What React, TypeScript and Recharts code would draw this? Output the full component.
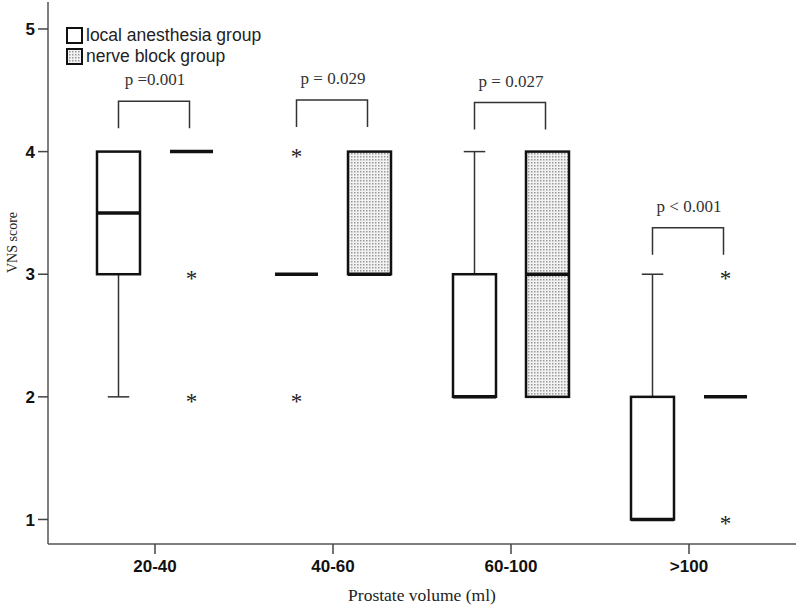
import { Bar, ComposedChart, Legend, XAxis, YAxis } from "recharts";

const categories = ["20-40", "40-60", "60-100", ">100"];

// local anesthesia group
const localMin = [2, 3, 2, 1];
const localQ1 = [3, 3, 2, 1];
const localMedian = [3.5, 3, 2, 1];
const localQ3 = [4, 3, 3, 2];
const localMax = [4, 3, 4, 3];
const localOutliers = [[], [4, 2], [], []];

// nerve block group
const nerveMin = [4, 3, 2, 2];
const nerveQ1 = [4, 3, 2, 2];
const nerveMedian = [4, 3, 3, 2];
const nerveQ3 = [4, 4, 4, 2];
const nerveMax = [4, 4, 4, 2];
const nerveOutliers = [[3, 2], [], [], [3, 1]];

const pLabels = ["p =0.001", "p = 0.029", "p = 0.027", "p < 0.001"];
const bracketLevel = [4.41, 4.42, 4.4, 3.38];

const yTicks = [1, 2, 3, 4, 5];
const Y_MIN = 0.8;
const Y_MAX = 5.22;
const BAR_GAP = 30;

const data = categories.map((cat, i) => ({
  cat,
  local: { min: localMin[i], q1: localQ1[i], med: localMedian[i], q3: localQ3[i], max: localMax[i], out: localOutliers[i] },
  nerve: { min: nerveMin[i], q1: nerveQ1[i], med: nerveMedian[i], q3: nerveQ3[i], max: nerveMax[i], out: nerveOutliers[i] },
  p: pLabels[i],
  bracket: bracketLevel[i],
}));

function BoxShape(props: any) {
  const { x, width, background, payload, group, fill } = props;
  if (!background) return null;
  const py = (v: number) => background.y + ((Y_MAX - v) / (Y_MAX - Y_MIN)) * background.height;
  const s = payload[group];
  const cx = x + width / 2;
  const cap = width / 4;
  const parts: any[] = [];
  if (s.max > s.q3) {
    parts.push(<line key="wu" x1={cx} x2={cx} y1={py(s.max)} y2={py(s.q3)} stroke="#333" strokeWidth={1.5} />);
    parts.push(<line key="cu" x1={cx - cap} x2={cx + cap} y1={py(s.max)} y2={py(s.max)} stroke="#333" strokeWidth={1.5} />);
  }
  if (s.min < s.q1) {
    parts.push(<line key="wl" x1={cx} x2={cx} y1={py(s.q1)} y2={py(s.min)} stroke="#333" strokeWidth={1.5} />);
    parts.push(<line key="cl" x1={cx - cap} x2={cx + cap} y1={py(s.min)} y2={py(s.min)} stroke="#333" strokeWidth={1.5} />);
  }
  if (s.q3 > s.q1) {
    parts.push(
      <rect key="box" x={x} y={py(s.q3)} width={width} height={py(s.q1) - py(s.q3)}
        fill={fill} stroke="#111" strokeWidth={2.5} />
    );
  }
  parts.push(<line key="med" x1={x} x2={x + width} y1={py(s.med)} y2={py(s.med)} stroke="#111" strokeWidth={3.5} />);
  s.out.forEach((o: number, k: number) => {
    parts.push(
      <text key={"o" + k} x={cx} y={py(o) + 12} textAnchor="middle" fontSize={23}
        fontFamily="'Liberation Serif', serif" fill="#222">*</text>
    );
  });
  if (group === "nerve") {
    const lx = cx - width - BAR_GAP;
    const top = py(payload.bracket);
    const bottom = top + 27;
    parts.push(
      <polyline key="br" points={`${lx},${bottom} ${lx},${top} ${cx - 2},${top} ${cx - 2},${bottom}`}
        fill="none" stroke="#333" strokeWidth={1.5} />
    );
    parts.push(
      <text key="p" x={(lx + cx) / 2} y={top - 16} textAnchor="middle" fontSize={17}
        fontFamily="'Liberation Serif', serif" fill="#333">{payload.p}</text>
    );
  }
  return <g>{parts}</g>;
}

function LegendContent() {
  const items = [
    { label: "local anesthesia group", fill: "#fff" },
    { label: "nerve block group", fill: "url(#dots)" },
  ];
  return (
    <div style={{ fontFamily: "'Liberation Sans', Arial, sans-serif", fontSize: 17.5, color: "#222", lineHeight: 1 }}>
      {items.map((it) => (
        <div key={it.label} style={{ display: "flex", alignItems: "center", height: 21 }}>
          <svg width={17} height={17} style={{ marginRight: 3 }}>
            <rect x={1} y={1} width={15} height={15} fill={it.fill} stroke="#111" strokeWidth={2} />
          </svg>
          <span>{it.label}</span>
        </div>
      ))}
    </div>
  );
}

export default function App() {
  return (
    <div style={{ position: "absolute", left: 0, top: 0 }}>
      <ComposedChart width={800} height={606} data={data}
        margin={{ top: 2, right: 4, bottom: 0, left: 0 }}
        barGap={BAR_GAP} barSize={43}>
        <defs>
          <pattern id="dots" width={3} height={3} patternUnits="userSpaceOnUse">
            <rect width={3} height={3} fill="#f2f2f2" />
            <rect width={1.5} height={1.5} fill="#9a9a9a" />
          </pattern>
        </defs>
        <XAxis dataKey="cat" padding={{ left: 18, right: 18 }} height={62}
          tick={{ fontSize: 17, fontWeight: "bold", fill: "#111", fontFamily: "'Liberation Sans', Arial, sans-serif" }}
          tickSize={10} tickMargin={6}
          axisLine={{ stroke: "#555", strokeWidth: 1.5 }} tickLine={{ stroke: "#444", strokeWidth: 1.5 }}
          label={{ value: "Prostate volume (ml)", position: "insideBottom", offset: 5, fontSize: 17.5, fill: "#222", fontFamily: "'Liberation Serif', serif" }} />
        <XAxis xAxisId="top" orientation="top" dataKey="cat" height={0} tick={false} tickLine={false}
          axisLine={{ stroke: "#555", strokeWidth: 1.5 }} />
        <YAxis type="number" domain={[Y_MIN, Y_MAX]} ticks={yTicks} width={48}
          allowDataOverflow
          tick={{ fontSize: 17, fontWeight: "bold", fill: "#111", fontFamily: "'Liberation Sans', Arial, sans-serif" }}
          tickSize={10} tickMargin={3}
          axisLine={{ stroke: "#555", strokeWidth: 1.5 }} tickLine={{ stroke: "#444", strokeWidth: 1.5 }}
          label={{ value: "VNS score", angle: -90, position: "insideLeft", offset: 12, fontSize: 14, fill: "#222", fontFamily: "'Liberation Serif', serif" }} />
        <YAxis yAxisId="right" orientation="right" type="number" domain={[Y_MIN, Y_MAX]} width={0}
          tick={false} tickLine={false} axisLine={{ stroke: "#555", strokeWidth: 1.5 }} />
        <Legend layout="vertical" align="center" verticalAlign="middle"
          wrapperStyle={{ left: 66, top: 25, width: "auto" }} content={<LegendContent />} />
        <Bar name="local anesthesia group" dataKey={(d: any) => [d.local.q1, d.local.q3]} fill="#fff"
          isAnimationActive={false} shape={(p: any) => <BoxShape {...p} group="local" />} />
        <Bar name="nerve block group" dataKey={(d: any) => [d.nerve.q1, d.nerve.q3]} fill="url(#dots)"
          isAnimationActive={false} shape={(p: any) => <BoxShape {...p} group="nerve" />} />
      </ComposedChart>
    </div>
  );
}
